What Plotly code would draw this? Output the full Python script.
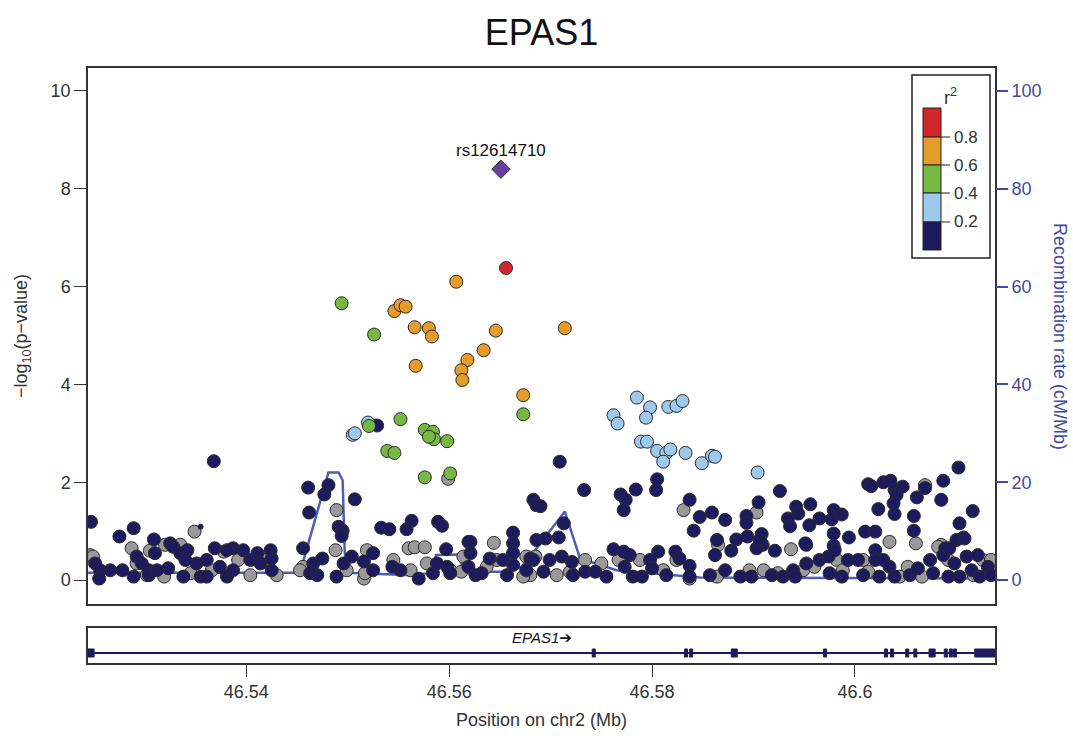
import plotly.graph_objects as go

# ---------------- data ----------------
title_text = "EPAS1"
lead_label = "rs12614710"
gene_name = "EPAS1"

x_ticks = [46.54, 46.56, 46.58, 46.6]
x_tick_text = ["46.54", "46.56", "46.58", "46.6"]
y_ticks = [0, 2, 4, 6, 8, 10]
rec_ticks = [0, 20, 40, 60, 80, 100]
legend_levels = ["0.8", "0.6", "0.4", "0.2"]

lead_x = [46.5651]
lead_y = [8.40]

red_x = [46.5656]
red_y = [6.38]

orange_x = [46.5607, 46.5546, 46.5552, 46.5557, 46.5566, 46.5580, 46.5583, 46.5646,
            46.5714, 46.5567, 46.5618, 46.5634, 46.5612, 46.5613, 46.5673]
orange_y = [6.10, 5.50, 5.62, 5.59, 5.17, 5.15, 4.98, 5.10,
            5.15, 4.38, 4.50, 4.70, 4.29, 4.09, 3.78]

green_x = [46.5494, 46.5526, 46.5552, 46.5673, 46.5521, 46.5576, 46.5584, 46.5585,
           46.5580, 46.5598, 46.5539, 46.5546, 46.5576, 46.5601]
green_y = [5.66, 5.02, 3.29, 3.39, 3.15, 3.07, 3.03, 2.88,
           2.93, 2.84, 2.64, 2.60, 2.10, 2.18]

lblue_x = [46.5505, 46.5507, 46.5520, 46.5785, 46.5762, 46.5766, 46.5798, 46.5794,
           46.5816, 46.5824, 46.5830, 46.5789, 46.5795, 46.5805, 46.5814, 46.5818,
           46.5811, 46.5833, 46.5849, 46.5859, 46.5862, 46.5904]
lblue_y = [2.97, 3.00, 3.22, 3.73, 3.37, 3.20, 3.53, 3.32,
           3.54, 3.56, 3.66, 2.83, 2.83, 2.64, 2.60, 2.67,
           2.42, 2.60, 2.39, 2.54, 2.52, 2.20]

gray_x = [46.5599, 46.5489, 46.5644, 46.5349, 46.5831, 46.5903, 46.5937, 46.6034,
          46.6069, 46.6060, 46.6085,
          46.5246, 46.5287, 46.5305, 46.5320, 46.5335, 46.5292, 46.5319, 46.5378,
          46.5392, 46.5404, 46.5430, 46.5456, 46.5488, 46.5499, 46.5516, 46.5519,
          46.5517, 46.5545, 46.5560, 46.5566, 46.5576, 46.5578, 46.5601, 46.5612,
          46.5647, 46.5676, 46.5680, 46.5685, 46.5706, 46.5734, 46.5750, 46.5788,
          46.5824, 46.5837, 46.5865, 46.5910, 46.5924, 46.5949, 46.5960, 46.5982,
          46.6008, 46.6013, 46.6044, 46.6052, 46.6082, 46.6092, 46.6126,
          46.5249, 46.5302, 46.5345, 46.5366, 46.5419, 46.5453, 46.5562, 46.5614,
          46.5637, 46.5673, 46.5719, 46.5767, 46.5811, 46.5864, 46.5896, 46.5988,
          46.6066, 46.6117, 46.6134]
gray_y = [2.07, 1.43, 0.76, 0.99, 1.43, 1.38, 0.63, 0.78,
          1.94, 0.75, 0.72,
          0.51, 0.65, 0.60, 0.72, 0.72, 0.34, 0.07, 0.58,
          0.41, 0.10, 0.10, 0.27, 0.61, 0.20, 0.03, 0.61,
          0.14, 0.41, 0.65, 0.67, 0.67, 0.34, 0.20, 0.17,
          0.41, 0.48, 0.10, 0.48, 0.10, 0.41, 0.34, 0.41,
          0.41, 0.03, 0.72, 0.20, 0.14, 0.20, 0.27, 0.41,
          0.41, 0.17, 0.07, 0.27, 0.68, 0.41, 0.41,
          0.48, 0.10, 0.14, 0.20, 0.41, 0.20, 0.20, 0.48,
          0.27, 0.07, 0.17, 0.41, 0.20, 0.07, 0.20, 0.20,
          0.07, 0.10, 0.41]

navy_x = [46.5368, 46.5247, 46.5461, 46.5481, 46.5477, 46.5462, 46.5507, 46.5491,
          46.5495, 46.5494, 46.5529, 46.5533, 46.5541, 46.5563, 46.5558, 46.5589,
          46.5593, 46.5597, 46.5683, 46.5686, 46.5690, 46.5663, 46.5663, 46.5621,
          46.5289, 46.5275, 46.5309, 46.5709, 46.5733, 46.5769, 46.5774, 46.5772,
          46.5784, 46.5805, 46.5804, 46.5837, 46.5847, 46.5859, 46.5872, 46.5841,
          46.5893, 46.5905, 46.5893, 46.5926, 46.5894, 46.5883, 46.5908, 46.5909,
          46.5921, 46.5942, 46.5956, 46.5934, 46.5936, 46.5944, 46.5955, 46.5965,
          46.5979, 46.5987, 46.5977, 46.5979, 46.5994, 46.5952, 46.5979, 46.6010,
          46.6020, 46.6020, 46.6013, 46.6016, 46.6028, 46.6035, 46.6039, 46.6047,
          46.6069, 46.6087, 46.6102, 46.6061, 46.6041, 46.6038, 46.6085, 46.6023,
          46.6039, 46.6058, 46.6058, 46.6116, 46.6103, 46.6107, 46.6100, 46.6089,
          # band, left part
          46.5251, 46.5256, 46.5255, 46.5266, 46.5278, 46.5289, 46.5292, 46.5297,
          46.5304, 46.5310, 46.5325, 46.5323, 46.5328, 46.5335, 46.5338, 46.5342,
          46.5351, 46.5355, 46.5369, 46.5387, 46.5397, 46.5404, 46.5411, 46.5414,
          46.5424, 46.5425, 46.5425, 46.5456, 46.5466, 46.5463, 46.5470, 46.5475,
          46.5489, 46.5496, 46.5504, 46.5516, 46.5525, 46.5525, 46.5544, 46.5552,
          46.5570, 46.5584, 46.5588, 46.5598, 46.5601, 46.5619, 46.5621, 46.5619,
          46.5626, 46.5632, 46.5640, 46.5653, 46.5657, 46.5663, 46.5676, 46.5680,
          46.5686, 46.5304, 46.5312, 46.5340, 46.5361, 46.5361, 46.5374, 46.5381,
          46.5381, 46.5387, 46.5663,
          # band, right part
          46.5683, 46.5693, 46.5695, 46.5708, 46.5713, 46.5699, 46.5711, 46.5721,
          46.5722, 46.5734, 46.5744, 46.5755, 46.5762, 46.5772, 46.5773, 46.5778,
          46.5781, 46.5790, 46.5798, 46.5800, 46.5806, 46.5814, 46.5823, 46.5827,
          46.5837, 46.5837, 46.5857, 46.5862, 46.5864, 46.5872, 46.5878, 46.5887,
          46.5898, 46.5903, 46.5906, 46.5918, 46.5929, 46.5939, 46.5941, 46.5951,
          46.5952, 46.5965, 46.5975, 46.5974, 46.5980, 46.5987, 46.5993, 46.6003,
          46.6008, 46.6020, 46.6024, 46.6028, 46.6034, 46.6039, 46.6054, 46.6062,
          46.6074, 46.6077, 46.6087, 46.6092, 46.6098, 46.6103, 46.6110, 46.6115,
          46.6121, 46.6123, 46.6131, 46.6134, 46.6108, 46.6093]
navy_y = [2.43, 1.19, 1.89, 1.94, 1.75, 1.38, 1.65, 1.09,
          1.01, 0.90, 3.16, 1.07, 1.04, 1.21, 1.04, 1.19,
          1.11, 0.63, 1.64, 1.53, 1.51, 0.97, 0.75, 0.78,
          1.06, 0.89, 0.83, 2.42, 1.84, 1.75, 1.64, 1.43,
          1.85, 2.06, 1.84, 1.64, 1.29, 1.38, 1.23, 1.01,
          1.31, 1.59, 1.17, 1.82, 0.89, 0.83, 0.94, 0.72,
          0.60, 1.50, 1.55, 1.26, 1.10, 1.36, 1.12, 1.26,
          1.43, 1.34, 1.24, 0.95, 0.87, 0.72, 0.70, 0.99,
          0.99, 0.61, 1.96, 1.92, 2.00, 2.03, 1.84, 1.91,
          1.88, 2.03, 2.30, 1.69, 1.74, 1.57, 1.64, 1.45,
          1.35, 1.31, 1.01, 1.41, 1.16, 0.87, 0.82, 0.65,
          # band, left part
          0.34, 0.20, 0.03, 0.20, 0.20, 0.07, 0.48, 0.34,
          0.20, 0.55, 0.75, 0.24, 0.68, 0.55, 0.07, 0.61,
          0.34, 0.07, 0.65, 0.65, 0.61, 0.41, 0.55, 0.34,
          0.61, 0.44, 0.20, 0.65, 0.34, 0.14, 0.10, 0.44,
          0.07, 0.34, 0.48, 0.38, 0.55, 0.20, 0.27, 0.20,
          0.03, 0.14, 0.34, 0.27, 0.14, 0.78, 0.55, 0.27,
          0.10, 0.14, 0.44, 0.41, 0.10, 0.31, 0.20, 0.44,
          0.82, 0.10, 0.20, 0.41, 0.41, 0.07, 0.27, 0.61,
          0.07, 0.20, 0.55,
          # band, right part
          0.41, 0.17, 0.85, 0.87, 1.16, 0.41, 0.48, 0.37,
          0.10, 0.17, 0.17, 0.07, 0.63, 0.58, 0.27, 0.51,
          0.07, 0.07, 0.41, 0.24, 0.58, 0.10, 0.58, 0.44,
          0.29, 0.07, 0.10, 0.51, 0.82, 0.20, 0.60, 0.07,
          0.07, 0.65, 0.82, 0.10, 0.07, 0.20, 0.07, 0.75,
          0.34, 0.41, 0.14, 0.48, 0.61, 0.07, 0.41, 0.41,
          0.10, 0.41, 0.07, 0.41, 0.27, 0.07, 0.10, 0.24,
          0.41, 0.14, 0.51, 0.07, 0.34, 0.07, 0.48, 0.20,
          0.51, 0.07, 0.27, 0.10, 0.85, 0.65]

small_x = [46.5355]
small_y = [1.09]

rec_x = [46.5244, 46.5453, 46.5481, 46.5491, 46.5495, 46.5497, 46.5499, 46.5532,
         46.5564, 46.5583, 46.5587, 46.5608, 46.5613, 46.5621, 46.5640, 46.5653,
         46.5670, 46.5680, 46.5714, 46.5729, 46.5756, 46.5765, 46.5847, 46.6138]
rec_y = [1.5, 1.5, 22.0, 22.0, 20.4, 6.0, 1.5, 1.2,
         1.0, 1.5, 5.1, 5.2, 2.9, 1.0, 1.7, 1.7,
         2.5, 4.8, 14.0, 4.4, 2.7, 2.0, 0.5, 0.3]

gene_start = 46.5244
gene_end = 46.6138
exon_start = [46.5244, 46.5741, 46.5832, 46.5837, 46.5878, 46.5969, 46.6029, 46.6035,
              46.6050, 46.6058, 46.6073, 46.6088, 46.6093, 46.6097, 46.6118]
exon_end = [46.5250, 46.5744, 46.5835, 46.5840, 46.5884, 46.5972, 46.6032, 46.6038,
            46.6053, 46.6061, 46.6079, 46.6091, 46.6096, 46.6100, 46.6138]

# ---------------- colours ----------------
C_NAVY = "#1d1b5e"
C_GRAY = "#9a9a9a"
C_LBLUE = "#9ec9ec"
C_GREEN = "#77b843"
C_ORANGE = "#e59c2b"
C_RED = "#d2262b"
C_PURPLE = "#6b3fa0"
C_REC = "#4f5db5"
C_RAXIS = "#3f4ba3"
C_AX = "#333333"
FONT = "Liberation Sans, Arial, sans-serif"

W, H = 1073, 738
ML, MR, MT, MB = 88, 78, 68, 75
PW = W - ML - MR
PH = H - MT - MB


def pxx(v):
    return (v - ML) / PW


def pxy(v):
    return (H - MB - v) / PH


fig = go.Figure()

# recombination rate (base axis, drawn beneath points)
fig.add_trace(go.Scatter(x=rec_x, y=rec_y, xaxis="x2", yaxis="y", mode="lines",
                         line=dict(color=C_REC, width=2.5), hoverinfo="skip",
                         showlegend=False))

mline = dict(color="#2a2a2a", width=1)


def add_pts(x, y, color, size=13, symbol="circle"):
    fig.add_trace(go.Scatter(x=x, y=y, xaxis="x2", yaxis="y3", mode="markers",
                             marker=dict(color=color, size=size, symbol=symbol,
                                         line=mline),
                             showlegend=False))


add_pts(gray_x, gray_y, C_GRAY)
add_pts(navy_x, navy_y, C_NAVY)
add_pts(small_x, small_y, C_NAVY, size=5)
add_pts(lblue_x, lblue_y, C_LBLUE)
add_pts(green_x, green_y, C_GREEN)
add_pts(orange_x, orange_y, C_ORANGE)
add_pts(red_x, red_y, C_RED)
add_pts(lead_x, lead_y, C_PURPLE, size=14, symbol="diamond")

# gene track
fig.add_trace(go.Scatter(x=[gene_start, gene_end], y=[1.0, 1.0], xaxis="x", yaxis="y2",
                         mode="lines", line=dict(color=C_NAVY, width=2),
                         hoverinfo="skip", showlegend=False))
shapes = []
for s, e in zip(exon_start, exon_end):
    shapes.append(dict(type="rect", xref="x", yref="y2", x0=s, x1=e, y0=0.6, y1=1.4,
                       fillcolor=C_NAVY, line=dict(color=C_NAVY, width=1)))

# r^2 legend
lg_colors = [C_RED, C_ORANGE, C_GREEN, C_LBLUE, C_NAVY]
lg_bounds = [108, 137, 165, 193, 222, 250]
shapes.append(dict(type="rect", xref="paper", yref="paper", x0=pxx(912), x1=pxx(990),
                   y0=pxy(258), y1=pxy(75), fillcolor="white",
                   line=dict(color="#222222", width=1.5)))
for i, c in enumerate(lg_colors):
    shapes.append(dict(type="rect", xref="paper", yref="paper", x0=pxx(923), x1=pxx(941),
                       y0=pxy(lg_bounds[i + 1]), y1=pxy(lg_bounds[i]), fillcolor=c,
                       line=dict(color="#222222", width=1)))
annotations = []
for i, lab in enumerate(legend_levels):
    yb = lg_bounds[i + 1]
    shapes.append(dict(type="line", xref="paper", yref="paper", x0=pxx(941), x1=pxx(950),
                       y0=pxy(yb), y1=pxy(yb), line=dict(color="#222222", width=1)))
    annotations.append(dict(text=lab, xref="paper", yref="paper", x=pxx(952), y=pxy(yb),
                            xanchor="left", yanchor="middle", showarrow=False,
                            font=dict(family=FONT, size=17, color="#333333")))
annotations.append(dict(text="r<sup>2</sup>", xref="paper", yref="paper", x=pxx(950),
                        y=pxy(96), xanchor="center", yanchor="middle", showarrow=False,
                        font=dict(family=FONT, size=18, color="#333333")))

# labels
annotations.append(dict(text=lead_label, x=lead_x[0], y=lead_y[0], xref="x2", yref="y3",
                        yshift=19, showarrow=False,
                        font=dict(family=FONT, size=17, color="#111111")))
annotations.append(dict(text="<i>" + gene_name + "</i>\u2794",
                        x=(gene_start + gene_end) / 2, y=2.6, xref="x", yref="y2",
                        showarrow=False,
                        font=dict(family="Liberation Sans, DejaVu Sans, sans-serif",
                                  size=15, color="#111111")))
annotations.append(dict(text="\u2212log<sub>10</sub>(p\u2212value)", xref="paper",
                        yref="paper", x=pxx(22), y=pxy(336), textangle=-90,
                        xanchor="center", yanchor="middle", showarrow=False,
                        font=dict(family=FONT, size=18, color="#333333")))
annotations.append(dict(text="Recombination rate (cM/Mb)", xref="paper", yref="paper",
                        x=pxx(1060), y=pxy(336), textangle=90, xanchor="center",
                        yanchor="middle", showarrow=False,
                        font=dict(family=FONT, size=18, color=C_RAXIS)))
annotations.append(dict(text="Position on chr2 (Mb)", xref="paper", yref="paper",
                        x=pxx(541), y=pxy(720), xanchor="center", yanchor="middle",
                        showarrow=False, font=dict(family=FONT, size=18, color="#333333")))

main_bottom = pxy(604)
gene_top = pxy(628)

fig.update_layout(
    width=W, height=H,
    margin=dict(l=ML, r=MR, t=MT, b=MB),
    paper_bgcolor="white", plot_bgcolor="white",
    showlegend=False,
    font=dict(family=FONT, size=18, color="#333333"),
    title=dict(text=title_text, x=0.5, xref="paper", y=1 - 32 / H, yanchor="middle",
               font=dict(family=FONT, size=36, color="#111111")),
    xaxis=dict(domain=[0, 1], anchor="y2", range=[46.5244, 46.6138],
               tickvals=x_ticks, ticktext=x_tick_text, ticks="outside", ticklen=12,
               tickcolor=C_AX, showline=True, linecolor=C_AX, linewidth=1.5,
               mirror=True, showgrid=False, zeroline=False,
               tickfont=dict(family=FONT, size=18, color="#333333")),
    xaxis2=dict(domain=[0, 1], anchor="y", matches="x", showticklabels=False,
                ticks="", showline=True, linecolor=C_AX, linewidth=1.5, mirror=True,
                showgrid=False, zeroline=False),
    yaxis=dict(domain=[main_bottom, 1], anchor="x2", side="right",
               range=[-4.9, 104.7], tickvals=rec_ticks, ticks="outside", ticklen=12,
               tickcolor=C_RAXIS, tickwidth=1.5, showline=False, showgrid=False,
               zeroline=False, tickfont=dict(family=FONT, size=18, color=C_RAXIS)),
    yaxis3=dict(overlaying="y", anchor="x2", side="left", range=[-0.49, 10.47],
                tickvals=y_ticks, ticks="outside", ticklen=12, tickcolor=C_AX,
                showline=True, linecolor=C_AX, linewidth=1.5, mirror=True,
                showgrid=False, zeroline=False,
                tickfont=dict(family=FONT, size=18, color="#333333")),
    yaxis2=dict(domain=[0, gene_top], anchor="x", range=[0, 3.5], showticklabels=False,
                ticks="", showline=True, linecolor=C_AX, linewidth=1.5, mirror=True,
                showgrid=False, zeroline=False),
    shapes=shapes,
    annotations=annotations,
)

fig.write_html("out.html", config={"displayModeBar": False},
               post_script="document.body.style.margin='0px';")
